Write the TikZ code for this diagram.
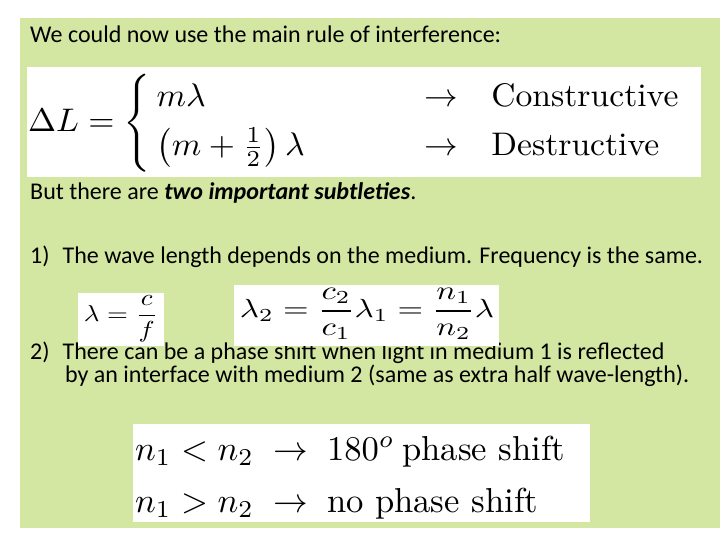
\documentclass[tikz,border=0pt]{standalone}
\usepackage{fontspec}
\usepackage{amsmath}
\usepackage{graphicx}
\setmainfont{Carlito}
\newfontfamily\lmr{Latin Modern Roman}
\newcommand{\rt}[1]{\text{\lmr #1}}
\definecolor{slidegreen}{HTML}{D3E6A2}
\tikzset{txt/.style={anchor=base west,inner sep=0pt,font=\fontsize{24}{28}\selectfont},
 wbox/.style={fill=white,draw=none}}
\begin{document}
\begin{tikzpicture}[x=1pt,y=-1pt]
\useasboundingbox (0,0) rectangle (720,540);
\fill[slidegreen] (20,18) rectangle (720,528);
\node[txt] (t1) at (30,43) {We could now use the main rule of interference:};
\fill[wbox] (27,67) rectangle (701,177);
\node[anchor=west,inner sep=0pt] (m1) at (28,123) {\resizebox*{671pt}{98pt}{$\Delta L=\left\{\begin{array}{@{\,}l@{\qquad\quad\;\;}c@{\quad}l}m\lambda&\rightarrow&\rt{Constructive}\\[3pt]\left(m+\frac{1}{2}\right)\lambda&\rightarrow&\rt{Destructive}\end{array}\right.$}};
\node[txt] (t2) at (30,200) {But there are \textbf{\textit{two important subtleties}}.};
\node[txt] (t3) at (30,263) {1)\hspace{13pt}The wave length depends on the medium. Frequency is the same.};
\node[txt] (t4) at (30,359) {2)\hspace{13pt}There can be a phase shift when light in medium 1 is reflected};
\node[txt] (t5) at (65,382) {by an interface with medium 2 (same as extra half wave-length).};
\fill[wbox] (78,293) rectangle (164,346);
\node[inner sep=0pt] (b1) at (121,319) {\resizebox*{74pt}{46pt}{$\lambda=\dfrac{c}{f}$}};
\fill[wbox] (234,285) rectangle (499,346);
\node[inner sep=0pt] (b2) at (367,314) {\resizebox*{254pt}{51pt}{$\lambda_2=\dfrac{c_2}{c_1}\lambda_1=\dfrac{n_1}{n_2}\lambda$}};
\fill[wbox] (133,424) rectangle (590,522);
\node[anchor=west,inner sep=0pt] (b3) at (135,478) {\resizebox{430pt}{!}{$\begin{array}{@{}l@{\;\;}c@{\;\;}l@{}}n_1<n_2&\rightarrow&180^o\ \rt{phase shift}\\[3pt] n_1>n_2&\rightarrow&\rt{no phase shift}\end{array}$}};
\end{tikzpicture}
\end{document}
